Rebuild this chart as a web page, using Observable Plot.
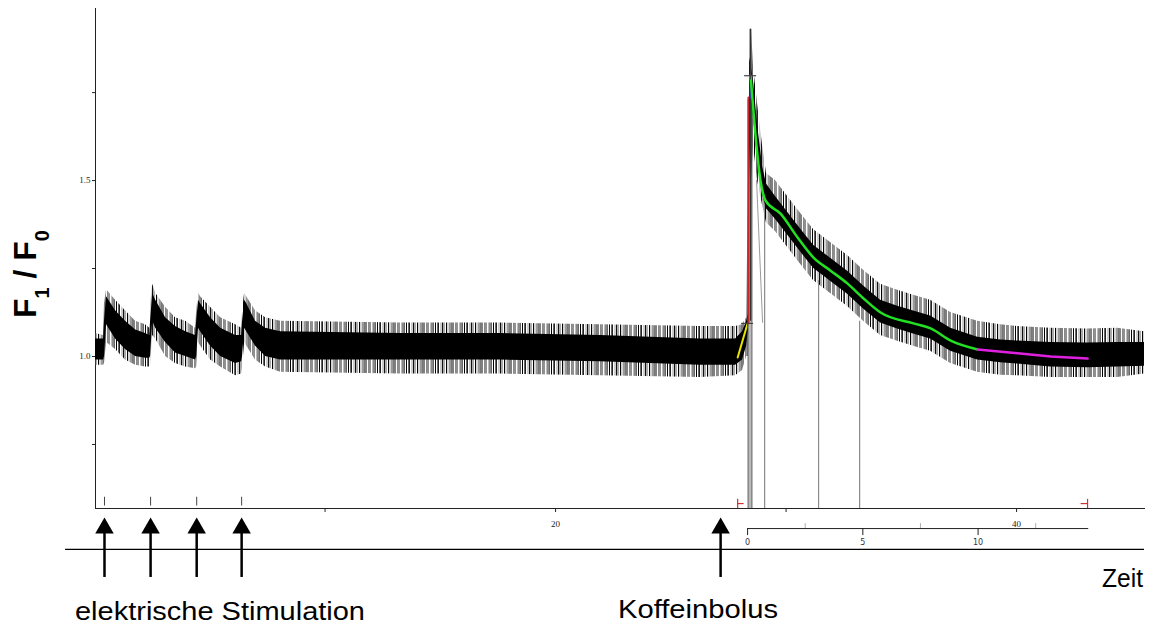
<!DOCTYPE html>
<html><head><meta charset="utf-8">
<script src="https://cdn.jsdelivr.net/npm/d3@7"></script>
<script src="https://cdn.jsdelivr.net/npm/@observablehq/plot@0.6"></script>
<style>body{margin:0;background:#fff} svg{display:block}</style>
</head><body><div id="chart"></div>
<script>
// ---- trace envelope (time, F1/F0) ----
const traceT   = [0.04,0.39,0.43,0.52,0.91,1.34,1.78,2.21,2.39,2.43,2.52,2.65,3.08,3.51,3.95,4.38,4.43,4.51,4.6,5.03,5.47,6.12,6.38,6.42,6.51,6.6,6.98,7.42,8.07,13.28,17.61,21.95,26.29,27.81,28.11,28.29,28.37,28.42,28.5,28.59,28.76,28.98,29.15,29.54,30.5,31.19,31.93,32.67,33.36,34.1,34.84,35.53,36.27,37.14,38.31,39.31,40.04,41.48,43.08,44.38,45.55];
const coreLo   = [0.99,0.99,1.0,1.09,1.05,1.02,1.0,0.995,0.995,1.0,1.1,1.08,1.04,1.01,1.0,0.99,1.0,1.08,1.07,1.03,1.0,0.98,0.985,1.0,1.08,1.07,1.03,1.0,0.99,0.99,0.99,0.985,0.975,0.975,0.99,1.03,1.08,1.5,1.72,1.68,1.56,1.46,1.42,1.39,1.308,1.251,1.214,1.177,1.135,1.095,1.078,1.064,1.05,1.015,0.99,0.982,0.979,0.97,0.968,0.97,0.972];
const coreHi   = [1.05,1.05,1.1,1.17,1.13,1.1,1.075,1.065,1.06,1.1,1.18,1.16,1.11,1.085,1.07,1.06,1.1,1.16,1.15,1.11,1.08,1.06,1.06,1.1,1.16,1.15,1.1,1.08,1.07,1.065,1.065,1.06,1.05,1.05,1.07,1.1,1.12,1.85,1.82,1.78,1.66,1.54,1.49,1.455,1.373,1.316,1.279,1.242,1.2,1.16,1.143,1.129,1.115,1.08,1.055,1.047,1.044,1.04,1.038,1.04,1.04];
const spikeLo  = [0.975,0.975,0.98,1.04,1.02,0.99,0.975,0.97,0.97,0.975,1.06,1.05,1.0,0.98,0.97,0.965,0.97,1.04,1.03,0.99,0.97,0.945,0.95,0.97,1.04,1.03,0.99,0.97,0.955,0.95,0.95,0.945,0.94,0.945,0.96,1.0,1.0,1.1,1.5,1.6,1.5,1.43,1.38,1.355,1.273,1.216,1.179,1.142,1.1,1.06,1.043,1.029,1.015,0.98,0.955,0.947,0.945,0.94,0.94,0.94,0.95];
const spikeHi  = [1.065,1.06,1.15,1.19,1.16,1.13,1.1,1.09,1.08,1.15,1.205,1.18,1.14,1.11,1.1,1.08,1.13,1.18,1.17,1.14,1.11,1.09,1.08,1.13,1.18,1.17,1.13,1.11,1.1,1.095,1.095,1.09,1.085,1.085,1.09,1.11,1.5,1.93,1.93,1.82,1.72,1.6,1.52,1.5,1.418,1.361,1.324,1.287,1.245,1.205,1.188,1.174,1.16,1.125,1.1,1.09,1.085,1.08,1.078,1.08,1.07];

// ---- fitted curves ----
const fitT  = [28.46,28.89,29.11,29.76,30.5,31.19,31.93,32.67,33.36,34.1,35.53,36.27,37.14,38.31];
const fitY  = [1.798,1.5,1.443,1.406,1.338,1.281,1.244,1.207,1.165,1.125,1.094,1.08,1.045,1.02];
const tailT = [38.31,40.04,41.48,43.08];
const tailY = [1.02,1.009,1.0,0.994];
const riseT = [27.9,28.33];
const riseY = [0.997,1.094];
const redT  = [28.37,28.37];
const redY  = [1.094,1.736];
const blueT = [28.46,28.46];
const blueY = [1.736,1.798];
const cursorT = [28.33,28.46];
const cursorY = [1.094,1.798];
const markerT   = [28.37,28.5,29.07,31.41,33.19];
const markerTop = [1.73,1.73,1.45,1.216,1.1];
const diagT = [28.72,28.98];
const diagY = [1.5,1.097];
const peakT = [28.46];
const peakY = [1.93];
const bracketT = [27.9,43.08];
const bracketDir = [1,-1];

// ---- axes / annotations ----
const xTicks = [10,20,30,40];
const xTickLabels = ["","20","","40"];
const yTicks = [0.75,1.0,1.25,1.5,1.75];
const yTickLabels = ["","1.0","","1.5",""];
const secStart = 28.33;
const secLength = 14.8;
const secMajor = [0,5,10];
const secMinor = [2.5,7.5,12.5];
const stimTimes = [0.43,2.43,4.43,6.38];
const caffeineTime = [27.16];

const trace = traceT.map((t,i)=>({t, lo:coreLo[i], hi:coreHi[i], slo:spikeLo[i], shi:spikeHi[i]}));
const pts = (T,Y)=>T.map((t,i)=>({t, y:Y[i]}));
const arrowsT = stimTimes.concat(caffeineTime);

const yMin = 0.568, yMax = 1.989;
const below = {stimTick1:0.575, stimTick2:0.6, shaft1:0.372, shaft2:0.506, head:0.5122, base:0.4517, secLine:0.511, secTick:0.491, secMinorTop:0.525, secLabel:0.472};

const plot = Plot.plot({
  width:1154, height:626,
  marginLeft:95, marginRight:10, marginTop:8, marginBottom:118,
  style:{background:"#fff", fontFamily:"'Liberation Serif', serif", fontSize:"9px", color:"#222"},
  x:{domain:[0.04,45.55], ticks:xTicks, tickFormat:d=>xTickLabels[xTicks.indexOf(d)], tickSize:4, tickPadding:8, line:true, label:null},
  y:{domain:[yMin,yMax], ticks:yTicks, tickFormat:d=>yTickLabels[yTicks.indexOf(d)], tickSize:3, tickPadding:2, line:true, label:null},
  marks:[
    // marker lines
    Plot.ruleX(markerT.map((t,i)=>({t, top:markerTop[i], w:i<2?2.2:1.2})), {x:"t", y1:yMin, y2:"top", stroke:"#8a8a8a", strokeWidth:d=>d.w}),
    Plot.line(pts(diagT,diagY), {x:"t", y:"y", stroke:"#9a9a9a", strokeWidth:1}),
    // trace
    Plot.areaY(trace, {x:"t", y1:"slo", y2:"shi", fill:"url(#spk)", curve:"linear"}),
    Plot.areaY(trace, {x:"t", y1:"lo", y2:"hi", fill:"#000", curve:"linear"}),
    Plot.ruleX(pts(peakT,peakY), {x:"t", y1:1.1, y2:"y", stroke:"#333", strokeWidth:1.5}),
    // fits
    Plot.line(pts(riseT,riseY), {x:"t", y:"y", stroke:"#e6e600", strokeWidth:2}),
    Plot.line(pts(redT,redY), {x:"t", y:"y", stroke:"#c8262a", strokeWidth:2}),
    Plot.line(pts(blueT,blueY), {x:"t", y:"y", stroke:"#2a3a9c", strokeWidth:2.5}),
    Plot.line(pts(fitT,fitY), {x:"t", y:"y", stroke:"#22e022", strokeWidth:2.5, curve:"monotone-x"}),
    Plot.line(pts(tailT,tailY), {x:"t", y:"y", stroke:"#e020e0", strokeWidth:2.5}),
    Plot.ruleY(pts(cursorT,cursorY), {y:"y", x1:d=>d.t-0.26, x2:d=>d.t+0.26, stroke:"#444", strokeWidth:1.2}),
    Plot.ruleX(pts(cursorT,cursorY), {x:"t", y1:d=>d.y-0.012, y2:d=>d.y+0.012, stroke:"#444", strokeWidth:1}),
    // range brackets
    Plot.ruleX(bracketT, {x:d=>d, y1:yMin, y2:0.594, stroke:"#d03030", strokeWidth:1.2}),
    Plot.ruleY(bracketT.map((t,i)=>({t, d:bracketDir[i]})), {y:0.582, x1:"t", x2:d=>d.t+0.28*d.d, stroke:"#d03030", strokeWidth:1.2}),
    // stimulus ticks inside plot
    Plot.ruleX(stimTimes, {x:d=>d, y1:below.stimTick1, y2:below.stimTick2, stroke:"#444", strokeWidth:1}),
    // secondary time axis
    Plot.ruleY([below.secLine], {x1:secStart, x2:secStart+secLength, stroke:"#222", strokeWidth:1}),
    Plot.ruleX(secMajor, {x:d=>secStart+d, y1:below.secTick, y2:below.secLine, stroke:"#222", strokeWidth:1}),
    Plot.ruleX(secMinor, {x:d=>secStart+d, y1:below.secLine, y2:below.secMinorTop, stroke:"#999", strokeWidth:0.8}),
    Plot.text(secMajor, {x:d=>secStart+d, y:below.secLabel, text:d=>String(d), fontSize:8, fontFamily:"'DejaVu Sans', sans-serif", fill:"#334"}),
    // arrows
    Plot.ruleX(arrowsT, {x:d=>d, y1:below.shaft1, y2:below.shaft2, stroke:"#000", strokeWidth:2.5}),
    Plot.dot(arrowsT, {x:d=>d, y:below.head, symbol:"triangle", r:6.86, fill:"#000", stroke:"none"}),
    // baseline
    Plot.ruleY([below.base], {x1:-1.26, x2:45.55, stroke:"#000", strokeWidth:1.3})
  ]
});

const svg = d3.select(plot);
const defs = svg.insert("defs", ":first-child");
// irregular vertical hatch mimicking dense noise spikes
const pat = defs.append("pattern").attr("id","spk").attr("patternUnits","userSpaceOnUse").attr("width",29).attr("height",97);
[[0.5,"#000",97],[2.5,"#666",97],[3.5,"#222",97],[6,"#999",97],[7.5,"#111",97],[9,"#555",97],[11.5,"#000",97],[13,"#aaa",97],
 [15,"#333",97],[16.5,"#777",97],[18,"#000",97],[20.5,"#888",97],[22,"#222",97],[24.5,"#bbb",97],[26,"#111",97],[27.5,"#666",97]]
.forEach(([x,c,h])=>{
  pat.append("rect").attr("x",x-0.5).attr("y",0).attr("width",1).attr("height",h).attr("fill",c);
});

// Y label F1 / F0
const yl = svg.append("text").attr("transform","translate(36,274) rotate(-90)")
  .attr("text-anchor","middle").attr("font-family","'Liberation Sans', Arial, sans-serif")
  .attr("font-weight","bold").attr("font-size",32).attr("fill","#000");
yl.append("tspan").text("F");
yl.append("tspan").attr("font-size",20).attr("dy",13).text("1");
yl.append("tspan").attr("dy",-13).text(" / F");
yl.append("tspan").attr("font-size",20).attr("dy",13).text("0");

const lab = (txt,x,y,len,anchor)=>svg.append("text").attr("x",x).attr("y",y)
  .attr("font-family","'Liberation Sans', Arial, sans-serif").attr("font-size",25).attr("fill","#000")
  .attr("text-anchor",anchor||"start").attr("textLength",len).attr("lengthAdjust","spacingAndGlyphs").text(txt);
lab("elektrische Stimulation",75,620,290);
lab("Koffeinbolus",618,618,160);
lab("Zeit",1102,587,41);

document.getElementById("chart").appendChild(plot);
</script>
</body></html>
